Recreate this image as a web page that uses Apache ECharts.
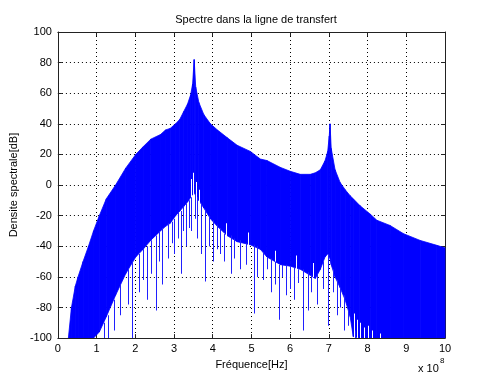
<!DOCTYPE html>
<html>
<head>
<meta charset="utf-8">
<script src="https://cdn.jsdelivr.net/npm/echarts@6/dist/echarts.min.js"></script>
<style>
  html, body { margin: 0; padding: 0; background: #fff; }
  #bar { position: absolute; left: 0; top: 0; width: 487px; height: 2px;
         background: linear-gradient(to right, #0c3c86, #0b4894 60%, #1a5aa6); }
  #chart { width: 487px; height: 375px; }
</style>
</head>
<body>
<div id="bar"></div>
<div id="chart"></div>
<script>
// frequency in units of 1e8 Hz
const freq = [0.27, 0.35, 0.45, 0.52, 0.65, 0.79, 0.92, 1.07, 1.25, 1.49, 1.75, 2.01, 2.2, 2.4, 2.65, 2.78,
  2.9, 3.04, 3.15, 3.25, 3.35, 3.43, 3.48, 3.52, 3.56, 3.64, 3.77, 3.94, 4.12, 4.37, 4.63, 4.97, 5.23,
  5.4, 5.75, 6.0, 6.26, 6.52, 6.65, 6.78, 6.9, 6.97, 7.01, 7.03, 7.06, 7.16, 7.29, 7.42, 7.55, 7.63,
  7.8, 8.07, 8.24, 8.58, 8.93, 9.36, 9.79, 10];
// top of the spectrum (dB)
const upperDb = [-100, -80, -66, -60, -50, -40, -30, -20, -9, 0, 11, 20, 25, 30, 33, 36,
  37, 40, 43, 48, 53, 59, 66, 82, 64, 54, 46, 40, 36, 31, 26, 22, 17,
  16, 11.5, 9, 7, 7, 8, 10, 15.8, 22, 32, 40, 24, 10, 1.7, -3, -7, -9,
  -13.4, -19, -23, -26.4, -31.8, -36.2, -39.4, -41];
// bottom of the dense part (dB)
const lowerDb = [-100, -100, -100, -100, -100, -100, -100, -96, -86, -72, -58, -47, -42, -36, -30, -27,
  -25, -20, -17, -14, -11, -8, -6, -5, -7, -10, -15, -22, -27, -33, -37, -39, -42,
  -47, -52, -53, -55, -59, -61, -55, -47, -45, -46, -48, -52, -60, -67, -75, -86, -99,
  -100, -100, -100, -100, -100, -100, -100, -100];
// isolated lines below the dense part: [freq, low dB, high dB]
const blueSpikes = [
  [1.2, -100, -90], [1.3, -100, -85], [1.45, -95, -75], [1.6, -85, -65], [1.8, -78, -55],
  [1.92, -100, -50], [2.1, -70, -45], [2.2, -62, -42], [2.3, -75, -40], [2.4, -58, -36],
  [2.53, -82, -33], [2.6, -50, -30], [2.7, -65, -28], [2.85, -48, -25], [2.95, -38, -24],
  [3.0, -45, -22], [3.1, -35, -18], [3.17, -58, -17], [3.22, -30, -14], [3.3, -40, -12],
  [3.38, -28, -10], [3.45, -30, -8], [3.55, -22, -6], [3.6, -35, -8], [3.7, -45, -12],
  [3.81, -63, -16], [3.9, -40, -20], [4.0, -50, -23], [4.1, -42, -26], [4.2, -45, -28],
  [4.3, -50, -32], [4.46, -58, -33], [4.55, -48, -35], [4.7, -55, -36], [4.85, -52, -38],
  [5.06, -84, -39], [5.15, -60, -40], [5.3, -62, -44], [5.4, -55, -47], [5.5, -70, -48],
  [5.6, -65, -50], [5.72, -88, -52], [5.8, -60, -52], [5.9, -72, -52], [6.0, -68, -53],
  [6.1, -75, -54], [6.2, -64, -55], [6.34, -95, -55], [6.46, -82, -57], [6.55, -70, -59],
  [6.7, -78, -58], [6.85, -68, -50], [6.97, -92, -45], [7.1, -70, -55], [7.2, -85, -62],
  [7.3, -80, -67], [7.4, -95, -72], [7.5, -92, -82], [7.68, -100, -95]
];
// white gaps inside the dense part: [freq, low dB, high dB]
const whiteGaps = [
  [3.44, -9, 4], [3.5, -6, 8], [3.58, -9, 2], [3.65, -12, -3],
  [4.33, -34, -25], [4.92, -40, -31], [5.62, -52, -43], [6.15, -55, -46], [6.6, -60, -51],
  [7.66, -100, -84], [7.73, -100, -88], [7.8, -100, -90], [7.9, -100, -93],
  [8.0, -100, -92], [8.12, -100, -95], [8.33, -100, -97]
];

const BLUE = '#0000ff';
const FONT = 'Liberation Sans, Arial, sans-serif';
const labelFont = { color: '#000', fontSize: 11, fontFamily: FONT };

// one quad per pair of neighbouring frequencies: [f0, f1, lo0, hi0, lo1, hi1]
const bandSegments = freq.slice(1).map((f, i) => [freq[i], f, lowerDb[i], upperDb[i], lowerDb[i + 1], upperDb[i + 1]]);

const chart = echarts.init(document.getElementById('chart'));

const spikeSeries = (list, color) => ({
  type: 'custom', clip: true, silent: true, data: list,
  encode: { x: 0, y: [1, 2] },
  renderItem: (params, api) => {
    const top = api.coord([api.value(0), api.value(2)]);
    const bot = api.coord([api.value(0), api.value(1)]);
    return { type: 'rect', shape: { x: Math.round(top[0]), y: top[1], width: 1, height: bot[1] - top[1] },
      style: { fill: color } };
  }
});

const axisCommon = {
  axisLine: { show: true, onZero: false, lineStyle: { color: '#222' } },
  axisTick: { show: true, inside: true, length: 4, lineStyle: { color: '#222' } }
};

chart.setOption({
  animation: false,
  backgroundColor: '#fff',
  title: {
    text: 'Spectre dans la ligne de transfert',
    left: 251, top: 9, textAlign: 'center',
    textStyle: { fontSize: 11, fontWeight: 'normal', color: '#000', fontFamily: FONT }
  },
  grid: { left: 57, right: 42, top: 32, bottom: 35 },
  xAxis: [Object.assign({
    type: 'value', min: 0, max: 10, interval: 1,
    name: 'Fréquence[Hz]', nameLocation: 'middle', nameGap: 17, nameTextStyle: labelFont,
    axisLabel: Object.assign({ margin: 5 }, labelFont),
    splitLine: { show: true, lineStyle: { color: '#000', type: [1, 3] } }
  }, axisCommon), Object.assign({
    type: 'value', min: 0, max: 10, interval: 1, position: 'top',
    axisLabel: { show: false }, splitLine: { show: false }
  }, axisCommon)],
  yAxis: [Object.assign({
    type: 'value', min: -100, max: 100, interval: 20,
    name: 'Densite spectrale[dB]', nameLocation: 'middle', nameGap: 31, nameTextStyle: labelFont,
    axisLabel: Object.assign({ margin: 6 }, labelFont),
    splitLine: { show: true, lineStyle: { color: '#000', type: [1, 3] } }
  }, axisCommon), Object.assign({
    type: 'value', min: -100, max: 100, interval: 20, position: 'right',
    axisLabel: { show: false }, splitLine: { show: false }
  }, axisCommon)],
  series: [
    {
      type: 'custom', clip: true, silent: true, data: bandSegments,
      encode: { x: [0, 1], y: [2, 3, 4, 5] },
      renderItem: (params, api) => {
        const p = [
          api.coord([api.value(0), api.value(2)]),
          api.coord([api.value(0), api.value(3)]),
          api.coord([api.value(1), api.value(5)]),
          api.coord([api.value(1), api.value(4)])
        ];
        return { type: 'polygon', shape: { points: p }, style: { fill: BLUE, stroke: BLUE, lineWidth: 0.8 } };
      }
    },
    spikeSeries(whiteGaps, '#ffffff'),
    spikeSeries(blueSpikes, '#2020ff')
  ],
  graphic: [
    { type: 'text', left: 418, top: 363, style: { text: 'x 10', fontSize: 11, fill: '#000', fontFamily: FONT } },
    { type: 'text', left: 440, top: 357, style: { text: '8', fontSize: 8, fill: '#000', fontFamily: FONT } }
  ]
});
</script>
</body>
</html>
